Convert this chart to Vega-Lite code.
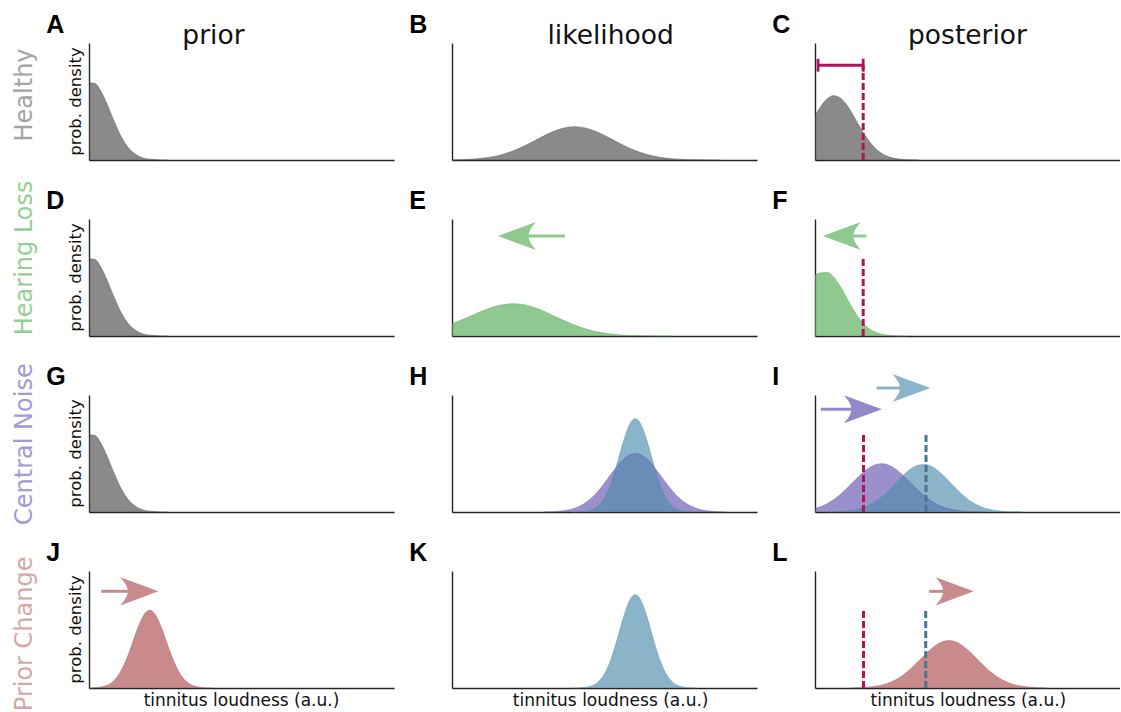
{
"$schema": "https://vega.github.io/schema/vega-lite/v6.json",
"padding": {"left": 13, "top": 12, "right": 0, "bottom": 0},
"background": "white",
"data": {"values": [
{"cond":"Healthy","stage":"prior","kind":"c","ink":"gray","x":0,"y":66},{"cond":"Healthy","stage":"prior","kind":"c","ink":"gray","x":2,"y":65.3},{"cond":"Healthy","stage":"prior","kind":"c","ink":"gray","x":4,"y":58.4},{"cond":"Healthy","stage":"prior","kind":"c","ink":"gray","x":6,"y":47.3},{"cond":"Healthy","stage":"prior","kind":"c","ink":"gray","x":8,"y":34.6},{"cond":"Healthy","stage":"prior","kind":"c","ink":"gray","x":10,"y":22.9},{"cond":"Healthy","stage":"prior","kind":"c","ink":"gray","x":12,"y":13.7},{"cond":"Healthy","stage":"prior","kind":"c","ink":"gray","x":14,"y":7.41},{"cond":"Healthy","stage":"prior","kind":"c","ink":"gray","x":16,"y":3.62},{"cond":"Healthy","stage":"prior","kind":"c","ink":"gray","x":18,"y":1.6},{"cond":"Healthy","stage":"prior","kind":"c","ink":"gray","x":20,"y":0.64},{"cond":"Healthy","stage":"prior","kind":"c","ink":"gray","x":22,"y":0.23},{"cond":"Healthy","stage":"prior","kind":"c","ink":"gray","x":24,"y":0.08},{"cond":"Healthy","stage":"prior","kind":"c","ink":"gray","x":26,"y":0},
{"cond":"Hearing Loss","stage":"prior","kind":"c","ink":"gray","x":0,"y":66},{"cond":"Hearing Loss","stage":"prior","kind":"c","ink":"gray","x":2,"y":65.3},{"cond":"Hearing Loss","stage":"prior","kind":"c","ink":"gray","x":4,"y":58.4},{"cond":"Hearing Loss","stage":"prior","kind":"c","ink":"gray","x":6,"y":47.3},{"cond":"Hearing Loss","stage":"prior","kind":"c","ink":"gray","x":8,"y":34.6},{"cond":"Hearing Loss","stage":"prior","kind":"c","ink":"gray","x":10,"y":22.9},{"cond":"Hearing Loss","stage":"prior","kind":"c","ink":"gray","x":12,"y":13.7},{"cond":"Hearing Loss","stage":"prior","kind":"c","ink":"gray","x":14,"y":7.41},{"cond":"Hearing Loss","stage":"prior","kind":"c","ink":"gray","x":16,"y":3.62},{"cond":"Hearing Loss","stage":"prior","kind":"c","ink":"gray","x":18,"y":1.6},{"cond":"Hearing Loss","stage":"prior","kind":"c","ink":"gray","x":20,"y":0.64},{"cond":"Hearing Loss","stage":"prior","kind":"c","ink":"gray","x":22,"y":0.23},{"cond":"Hearing Loss","stage":"prior","kind":"c","ink":"gray","x":24,"y":0.08},{"cond":"Hearing Loss","stage":"prior","kind":"c","ink":"gray","x":26,"y":0},
{"cond":"Central Noise","stage":"prior","kind":"c","ink":"gray","x":0,"y":66},{"cond":"Central Noise","stage":"prior","kind":"c","ink":"gray","x":2,"y":65.3},{"cond":"Central Noise","stage":"prior","kind":"c","ink":"gray","x":4,"y":58.4},{"cond":"Central Noise","stage":"prior","kind":"c","ink":"gray","x":6,"y":47.3},{"cond":"Central Noise","stage":"prior","kind":"c","ink":"gray","x":8,"y":34.6},{"cond":"Central Noise","stage":"prior","kind":"c","ink":"gray","x":10,"y":22.9},{"cond":"Central Noise","stage":"prior","kind":"c","ink":"gray","x":12,"y":13.7},{"cond":"Central Noise","stage":"prior","kind":"c","ink":"gray","x":14,"y":7.41},{"cond":"Central Noise","stage":"prior","kind":"c","ink":"gray","x":16,"y":3.62},{"cond":"Central Noise","stage":"prior","kind":"c","ink":"gray","x":18,"y":1.6},{"cond":"Central Noise","stage":"prior","kind":"c","ink":"gray","x":20,"y":0.64},{"cond":"Central Noise","stage":"prior","kind":"c","ink":"gray","x":22,"y":0.23},{"cond":"Central Noise","stage":"prior","kind":"c","ink":"gray","x":24,"y":0.08},{"cond":"Central Noise","stage":"prior","kind":"c","ink":"gray","x":26,"y":0},
{"cond":"Healthy","stage":"likelihood","kind":"c","ink":"gray","x":0,"y":0.16},{"cond":"Healthy","stage":"likelihood","kind":"c","ink":"gray","x":4,"y":0.43},{"cond":"Healthy","stage":"likelihood","kind":"c","ink":"gray","x":8,"y":1.03},{"cond":"Healthy","stage":"likelihood","kind":"c","ink":"gray","x":12,"y":2.24},{"cond":"Healthy","stage":"likelihood","kind":"c","ink":"gray","x":16,"y":4.37},{"cond":"Healthy","stage":"likelihood","kind":"c","ink":"gray","x":20,"y":7.72},{"cond":"Healthy","stage":"likelihood","kind":"c","ink":"gray","x":24,"y":12.3},{"cond":"Healthy","stage":"likelihood","kind":"c","ink":"gray","x":28,"y":17.7},{"cond":"Healthy","stage":"likelihood","kind":"c","ink":"gray","x":32,"y":23},{"cond":"Healthy","stage":"likelihood","kind":"c","ink":"gray","x":36,"y":26.9},{"cond":"Healthy","stage":"likelihood","kind":"c","ink":"gray","x":40,"y":28.5},{"cond":"Healthy","stage":"likelihood","kind":"c","ink":"gray","x":44,"y":27.2},{"cond":"Healthy","stage":"likelihood","kind":"c","ink":"gray","x":48,"y":23.5},{"cond":"Healthy","stage":"likelihood","kind":"c","ink":"gray","x":52,"y":18.3},{"cond":"Healthy","stage":"likelihood","kind":"c","ink":"gray","x":56,"y":12.8},{"cond":"Healthy","stage":"likelihood","kind":"c","ink":"gray","x":60,"y":8.13},{"cond":"Healthy","stage":"likelihood","kind":"c","ink":"gray","x":64,"y":4.65},{"cond":"Healthy","stage":"likelihood","kind":"c","ink":"gray","x":68,"y":2.4},{"cond":"Healthy","stage":"likelihood","kind":"c","ink":"gray","x":72,"y":1.12},{"cond":"Healthy","stage":"likelihood","kind":"c","ink":"gray","x":76,"y":0.47},{"cond":"Healthy","stage":"likelihood","kind":"c","ink":"gray","x":80,"y":0.18},{"cond":"Healthy","stage":"likelihood","kind":"c","ink":"gray","x":84,"y":0.06},{"cond":"Healthy","stage":"likelihood","kind":"c","ink":"gray","x":88,"y":0},
{"cond":"Healthy","stage":"posterior","kind":"c","ink":"gray","x":0,"y":37.9},{"cond":"Healthy","stage":"posterior","kind":"c","ink":"gray","x":2,"y":46.2},{"cond":"Healthy","stage":"posterior","kind":"c","ink":"gray","x":4,"y":52.3},{"cond":"Healthy","stage":"posterior","kind":"c","ink":"gray","x":6,"y":55},{"cond":"Healthy","stage":"posterior","kind":"c","ink":"gray","x":8,"y":53.5},{"cond":"Healthy","stage":"posterior","kind":"c","ink":"gray","x":10,"y":48.4},{"cond":"Healthy","stage":"posterior","kind":"c","ink":"gray","x":12,"y":40.5},{"cond":"Healthy","stage":"posterior","kind":"c","ink":"gray","x":14,"y":31.5},{"cond":"Healthy","stage":"posterior","kind":"c","ink":"gray","x":16,"y":22.7},{"cond":"Healthy","stage":"posterior","kind":"c","ink":"gray","x":18,"y":15.2},{"cond":"Healthy","stage":"posterior","kind":"c","ink":"gray","x":20,"y":9.45},{"cond":"Healthy","stage":"posterior","kind":"c","ink":"gray","x":22,"y":5.44},{"cond":"Healthy","stage":"posterior","kind":"c","ink":"gray","x":24,"y":2.91},{"cond":"Healthy","stage":"posterior","kind":"c","ink":"gray","x":26,"y":1.44},{"cond":"Healthy","stage":"posterior","kind":"c","ink":"gray","x":28,"y":0.66},{"cond":"Healthy","stage":"posterior","kind":"c","ink":"gray","x":30,"y":0.28},{"cond":"Healthy","stage":"posterior","kind":"c","ink":"gray","x":32,"y":0.11},{"cond":"Healthy","stage":"posterior","kind":"c","ink":"gray","x":34,"y":0},
{"cond":"Hearing Loss","stage":"likelihood","kind":"c","ink":"green","x":0,"y":10.4},{"cond":"Hearing Loss","stage":"likelihood","kind":"c","ink":"green","x":4,"y":14.7},{"cond":"Hearing Loss","stage":"likelihood","kind":"c","ink":"green","x":8,"y":19.3},{"cond":"Hearing Loss","stage":"likelihood","kind":"c","ink":"green","x":12,"y":23.4},{"cond":"Hearing Loss","stage":"likelihood","kind":"c","ink":"green","x":16,"y":26.4},{"cond":"Hearing Loss","stage":"likelihood","kind":"c","ink":"green","x":20,"y":27.6},{"cond":"Hearing Loss","stage":"likelihood","kind":"c","ink":"green","x":24,"y":26.6},{"cond":"Hearing Loss","stage":"likelihood","kind":"c","ink":"green","x":28,"y":23.5},{"cond":"Hearing Loss","stage":"likelihood","kind":"c","ink":"green","x":32,"y":18.9},{"cond":"Hearing Loss","stage":"likelihood","kind":"c","ink":"green","x":36,"y":14},{"cond":"Hearing Loss","stage":"likelihood","kind":"c","ink":"green","x":40,"y":9.51},{"cond":"Hearing Loss","stage":"likelihood","kind":"c","ink":"green","x":44,"y":5.91},{"cond":"Hearing Loss","stage":"likelihood","kind":"c","ink":"green","x":48,"y":3.36},{"cond":"Hearing Loss","stage":"likelihood","kind":"c","ink":"green","x":52,"y":1.75},{"cond":"Hearing Loss","stage":"likelihood","kind":"c","ink":"green","x":56,"y":0.84},{"cond":"Hearing Loss","stage":"likelihood","kind":"c","ink":"green","x":60,"y":0.37},{"cond":"Hearing Loss","stage":"likelihood","kind":"c","ink":"green","x":64,"y":0.15},{"cond":"Hearing Loss","stage":"likelihood","kind":"c","ink":"green","x":68,"y":0.05},{"cond":"Hearing Loss","stage":"likelihood","kind":"c","ink":"green","x":72,"y":0},
{"cond":"Hearing Loss","stage":"posterior","kind":"c","ink":"green","x":0,"y":52.2},{"cond":"Hearing Loss","stage":"posterior","kind":"c","ink":"green","x":2,"y":54},{"cond":"Hearing Loss","stage":"posterior","kind":"c","ink":"green","x":4,"y":54.3},{"cond":"Hearing Loss","stage":"posterior","kind":"c","ink":"green","x":6,"y":50.7},{"cond":"Hearing Loss","stage":"posterior","kind":"c","ink":"green","x":8,"y":43.6},{"cond":"Hearing Loss","stage":"posterior","kind":"c","ink":"green","x":10,"y":34.4},{"cond":"Hearing Loss","stage":"posterior","kind":"c","ink":"green","x":12,"y":25},{"cond":"Hearing Loss","stage":"posterior","kind":"c","ink":"green","x":14,"y":16.7},{"cond":"Hearing Loss","stage":"posterior","kind":"c","ink":"green","x":16,"y":10.3},{"cond":"Hearing Loss","stage":"posterior","kind":"c","ink":"green","x":18,"y":5.8},{"cond":"Hearing Loss","stage":"posterior","kind":"c","ink":"green","x":20,"y":3},{"cond":"Hearing Loss","stage":"posterior","kind":"c","ink":"green","x":22,"y":1.44},{"cond":"Hearing Loss","stage":"posterior","kind":"c","ink":"green","x":24,"y":0.63},{"cond":"Hearing Loss","stage":"posterior","kind":"c","ink":"green","x":26,"y":0.25},{"cond":"Hearing Loss","stage":"posterior","kind":"c","ink":"green","x":28,"y":0.09},{"cond":"Hearing Loss","stage":"posterior","kind":"c","ink":"green","x":30,"y":0},
{"cond":"Central Noise","stage":"likelihood","kind":"c","ink":"purple","x":30,"y":0},{"cond":"Central Noise","stage":"likelihood","kind":"c","ink":"purple","x":32,"y":0.2},{"cond":"Central Noise","stage":"likelihood","kind":"c","ink":"purple","x":34,"y":0.45},{"cond":"Central Noise","stage":"likelihood","kind":"c","ink":"purple","x":36,"y":0.9},{"cond":"Central Noise","stage":"likelihood","kind":"c","ink":"purple","x":38,"y":1.7},{"cond":"Central Noise","stage":"likelihood","kind":"c","ink":"purple","x":40,"y":3.05},{"cond":"Central Noise","stage":"likelihood","kind":"c","ink":"purple","x":42,"y":5.18},{"cond":"Central Noise","stage":"likelihood","kind":"c","ink":"purple","x":44,"y":8.31},{"cond":"Central Noise","stage":"likelihood","kind":"c","ink":"purple","x":46,"y":12.6},{"cond":"Central Noise","stage":"likelihood","kind":"c","ink":"purple","x":48,"y":18.2},{"cond":"Central Noise","stage":"likelihood","kind":"c","ink":"purple","x":50,"y":24.7},{"cond":"Central Noise","stage":"likelihood","kind":"c","ink":"purple","x":52,"y":31.8},{"cond":"Central Noise","stage":"likelihood","kind":"c","ink":"purple","x":54,"y":38.7},{"cond":"Central Noise","stage":"likelihood","kind":"c","ink":"purple","x":56,"y":44.5},{"cond":"Central Noise","stage":"likelihood","kind":"c","ink":"purple","x":58,"y":48.5},{"cond":"Central Noise","stage":"likelihood","kind":"c","ink":"purple","x":60,"y":50},{"cond":"Central Noise","stage":"likelihood","kind":"c","ink":"purple","x":62,"y":48.8},{"cond":"Central Noise","stage":"likelihood","kind":"c","ink":"purple","x":64,"y":45},{"cond":"Central Noise","stage":"likelihood","kind":"c","ink":"purple","x":66,"y":39.3},{"cond":"Central Noise","stage":"likelihood","kind":"c","ink":"purple","x":68,"y":32.5},{"cond":"Central Noise","stage":"likelihood","kind":"c","ink":"purple","x":70,"y":25.4},{"cond":"Central Noise","stage":"likelihood","kind":"c","ink":"purple","x":72,"y":18.8},{"cond":"Central Noise","stage":"likelihood","kind":"c","ink":"purple","x":74,"y":13.1},{"cond":"Central Noise","stage":"likelihood","kind":"c","ink":"purple","x":76,"y":8.69},{"cond":"Central Noise","stage":"likelihood","kind":"c","ink":"purple","x":78,"y":5.45},{"cond":"Central Noise","stage":"likelihood","kind":"c","ink":"purple","x":80,"y":3.23},{"cond":"Central Noise","stage":"likelihood","kind":"c","ink":"purple","x":82,"y":1.81},{"cond":"Central Noise","stage":"likelihood","kind":"c","ink":"purple","x":84,"y":0.96},{"cond":"Central Noise","stage":"likelihood","kind":"c","ink":"purple","x":86,"y":0.48},{"cond":"Central Noise","stage":"likelihood","kind":"c","ink":"purple","x":88,"y":0.22},{"cond":"Central Noise","stage":"likelihood","kind":"c","ink":"purple","x":90,"y":0},
{"cond":"Central Noise","stage":"likelihood","kind":"c","ink":"blue","x":40,"y":0},{"cond":"Central Noise","stage":"likelihood","kind":"c","ink":"blue","x":42,"y":0.18},{"cond":"Central Noise","stage":"likelihood","kind":"c","ink":"blue","x":44,"y":0.66},{"cond":"Central Noise","stage":"likelihood","kind":"c","ink":"blue","x":46,"y":2.02},{"cond":"Central Noise","stage":"likelihood","kind":"c","ink":"blue","x":48,"y":5.32},{"cond":"Central Noise","stage":"likelihood","kind":"c","ink":"blue","x":50,"y":12.1},{"cond":"Central Noise","stage":"likelihood","kind":"c","ink":"blue","x":52,"y":23.7},{"cond":"Central Noise","stage":"likelihood","kind":"c","ink":"blue","x":54,"y":40.1},{"cond":"Central Noise","stage":"likelihood","kind":"c","ink":"blue","x":56,"y":58.5},{"cond":"Central Noise","stage":"likelihood","kind":"c","ink":"blue","x":58,"y":73.6},{"cond":"Central Noise","stage":"likelihood","kind":"c","ink":"blue","x":59,"y":78},{"cond":"Central Noise","stage":"likelihood","kind":"c","ink":"blue","x":60,"y":79.8},{"cond":"Central Noise","stage":"likelihood","kind":"c","ink":"blue","x":61,"y":78.6},{"cond":"Central Noise","stage":"likelihood","kind":"c","ink":"blue","x":62,"y":74.6},{"cond":"Central Noise","stage":"likelihood","kind":"c","ink":"blue","x":64,"y":60.2},{"cond":"Central Noise","stage":"likelihood","kind":"c","ink":"blue","x":66,"y":41.9},{"cond":"Central Noise","stage":"likelihood","kind":"c","ink":"blue","x":68,"y":25.2},{"cond":"Central Noise","stage":"likelihood","kind":"c","ink":"blue","x":70,"y":13},{"cond":"Central Noise","stage":"likelihood","kind":"c","ink":"blue","x":72,"y":5.82},{"cond":"Central Noise","stage":"likelihood","kind":"c","ink":"blue","x":74,"y":2.24},{"cond":"Central Noise","stage":"likelihood","kind":"c","ink":"blue","x":76,"y":0.74},{"cond":"Central Noise","stage":"likelihood","kind":"c","ink":"blue","x":78,"y":0.21},{"cond":"Central Noise","stage":"likelihood","kind":"c","ink":"blue","x":80,"y":0},
{"cond":"Central Noise","stage":"posterior","kind":"c","ink":"purple","x":0,"y":2.97},{"cond":"Central Noise","stage":"posterior","kind":"c","ink":"purple","x":2,"y":4.71},{"cond":"Central Noise","stage":"posterior","kind":"c","ink":"purple","x":4,"y":7.14},{"cond":"Central Noise","stage":"posterior","kind":"c","ink":"purple","x":6,"y":10.4},{"cond":"Central Noise","stage":"posterior","kind":"c","ink":"purple","x":8,"y":14.4},{"cond":"Central Noise","stage":"posterior","kind":"c","ink":"purple","x":10,"y":19.1},{"cond":"Central Noise","stage":"posterior","kind":"c","ink":"purple","x":12,"y":24.3},{"cond":"Central Noise","stage":"posterior","kind":"c","ink":"purple","x":14,"y":29.5},{"cond":"Central Noise","stage":"posterior","kind":"c","ink":"purple","x":16,"y":34.3},{"cond":"Central Noise","stage":"posterior","kind":"c","ink":"purple","x":18,"y":38.1},{"cond":"Central Noise","stage":"posterior","kind":"c","ink":"purple","x":20,"y":40.6},{"cond":"Central Noise","stage":"posterior","kind":"c","ink":"purple","x":22,"y":41.3},{"cond":"Central Noise","stage":"posterior","kind":"c","ink":"purple","x":24,"y":40.2},{"cond":"Central Noise","stage":"posterior","kind":"c","ink":"purple","x":26,"y":37.5},{"cond":"Central Noise","stage":"posterior","kind":"c","ink":"purple","x":28,"y":33.4},{"cond":"Central Noise","stage":"posterior","kind":"c","ink":"purple","x":30,"y":28.5},{"cond":"Central Noise","stage":"posterior","kind":"c","ink":"purple","x":32,"y":23.2},{"cond":"Central Noise","stage":"posterior","kind":"c","ink":"purple","x":34,"y":18.1},{"cond":"Central Noise","stage":"posterior","kind":"c","ink":"purple","x":36,"y":13.5},{"cond":"Central Noise","stage":"posterior","kind":"c","ink":"purple","x":38,"y":9.65},{"cond":"Central Noise","stage":"posterior","kind":"c","ink":"purple","x":40,"y":6.59},{"cond":"Central Noise","stage":"posterior","kind":"c","ink":"purple","x":42,"y":4.31},{"cond":"Central Noise","stage":"posterior","kind":"c","ink":"purple","x":44,"y":2.69},{"cond":"Central Noise","stage":"posterior","kind":"c","ink":"purple","x":46,"y":1.61},{"cond":"Central Noise","stage":"posterior","kind":"c","ink":"purple","x":48,"y":0.92},{"cond":"Central Noise","stage":"posterior","kind":"c","ink":"purple","x":50,"y":0.5},{"cond":"Central Noise","stage":"posterior","kind":"c","ink":"purple","x":52,"y":0.26},{"cond":"Central Noise","stage":"posterior","kind":"c","ink":"purple","x":54,"y":0.13},{"cond":"Central Noise","stage":"posterior","kind":"c","ink":"purple","x":56,"y":0},
{"cond":"Central Noise","stage":"posterior","kind":"c","ink":"blue","x":4,"y":0},{"cond":"Central Noise","stage":"posterior","kind":"c","ink":"blue","x":6,"y":0.19},{"cond":"Central Noise","stage":"posterior","kind":"c","ink":"blue","x":8,"y":0.38},{"cond":"Central Noise","stage":"posterior","kind":"c","ink":"blue","x":10,"y":0.74},{"cond":"Central Noise","stage":"posterior","kind":"c","ink":"blue","x":12,"y":1.35},{"cond":"Central Noise","stage":"posterior","kind":"c","ink":"blue","x":14,"y":2.35},{"cond":"Central Noise","stage":"posterior","kind":"c","ink":"blue","x":16,"y":3.9},{"cond":"Central Noise","stage":"posterior","kind":"c","ink":"blue","x":18,"y":6.16},{"cond":"Central Noise","stage":"posterior","kind":"c","ink":"blue","x":20,"y":9.26},{"cond":"Central Noise","stage":"posterior","kind":"c","ink":"blue","x":22,"y":13.2},{"cond":"Central Noise","stage":"posterior","kind":"c","ink":"blue","x":24,"y":18},{"cond":"Central Noise","stage":"posterior","kind":"c","ink":"blue","x":26,"y":23.4},{"cond":"Central Noise","stage":"posterior","kind":"c","ink":"blue","x":28,"y":28.8},{"cond":"Central Noise","stage":"posterior","kind":"c","ink":"blue","x":30,"y":33.9},{"cond":"Central Noise","stage":"posterior","kind":"c","ink":"blue","x":32,"y":37.8},{"cond":"Central Noise","stage":"posterior","kind":"c","ink":"blue","x":34,"y":40.2},{"cond":"Central Noise","stage":"posterior","kind":"c","ink":"blue","x":36,"y":40.7},{"cond":"Central Noise","stage":"posterior","kind":"c","ink":"blue","x":38,"y":39.3},{"cond":"Central Noise","stage":"posterior","kind":"c","ink":"blue","x":40,"y":36},{"cond":"Central Noise","stage":"posterior","kind":"c","ink":"blue","x":42,"y":31.4},{"cond":"Central Noise","stage":"posterior","kind":"c","ink":"blue","x":44,"y":26.1},{"cond":"Central Noise","stage":"posterior","kind":"c","ink":"blue","x":46,"y":20.7},{"cond":"Central Noise","stage":"posterior","kind":"c","ink":"blue","x":48,"y":15.6},{"cond":"Central Noise","stage":"posterior","kind":"c","ink":"blue","x":50,"y":11.1},{"cond":"Central Noise","stage":"posterior","kind":"c","ink":"blue","x":52,"y":7.6},{"cond":"Central Noise","stage":"posterior","kind":"c","ink":"blue","x":54,"y":4.93},{"cond":"Central Noise","stage":"posterior","kind":"c","ink":"blue","x":56,"y":3.05},{"cond":"Central Noise","stage":"posterior","kind":"c","ink":"blue","x":58,"y":1.79},{"cond":"Central Noise","stage":"posterior","kind":"c","ink":"blue","x":60,"y":1},{"cond":"Central Noise","stage":"posterior","kind":"c","ink":"blue","x":62,"y":0.53},{"cond":"Central Noise","stage":"posterior","kind":"c","ink":"blue","x":64,"y":0.27},{"cond":"Central Noise","stage":"posterior","kind":"c","ink":"blue","x":66,"y":0.13},{"cond":"Central Noise","stage":"posterior","kind":"c","ink":"blue","x":68,"y":0},
{"cond":"Prior Change","stage":"prior","kind":"c","ink":"pink","x":0,"y":0},{"cond":"Prior Change","stage":"prior","kind":"c","ink":"pink","x":2,"y":0.27},{"cond":"Prior Change","stage":"prior","kind":"c","ink":"pink","x":4,"y":0.87},{"cond":"Prior Change","stage":"prior","kind":"c","ink":"pink","x":6,"y":2.42},{"cond":"Prior Change","stage":"prior","kind":"c","ink":"pink","x":8,"y":5.86},{"cond":"Prior Change","stage":"prior","kind":"c","ink":"pink","x":10,"y":12.4},{"cond":"Prior Change","stage":"prior","kind":"c","ink":"pink","x":12,"y":22.8},{"cond":"Prior Change","stage":"prior","kind":"c","ink":"pink","x":14,"y":36.6},{"cond":"Prior Change","stage":"prior","kind":"c","ink":"pink","x":16,"y":51.2},{"cond":"Prior Change","stage":"prior","kind":"c","ink":"pink","x":18,"y":62.4},{"cond":"Prior Change","stage":"prior","kind":"c","ink":"pink","x":19,"y":65.5},{"cond":"Prior Change","stage":"prior","kind":"c","ink":"pink","x":20,"y":66.4},{"cond":"Prior Change","stage":"prior","kind":"c","ink":"pink","x":21,"y":65},{"cond":"Prior Change","stage":"prior","kind":"c","ink":"pink","x":22,"y":61.6},{"cond":"Prior Change","stage":"prior","kind":"c","ink":"pink","x":24,"y":49.8},{"cond":"Prior Change","stage":"prior","kind":"c","ink":"pink","x":26,"y":35.1},{"cond":"Prior Change","stage":"prior","kind":"c","ink":"pink","x":28,"y":21.6},{"cond":"Prior Change","stage":"prior","kind":"c","ink":"pink","x":30,"y":11.5},{"cond":"Prior Change","stage":"prior","kind":"c","ink":"pink","x":32,"y":5.4},{"cond":"Prior Change","stage":"prior","kind":"c","ink":"pink","x":34,"y":2.2},{"cond":"Prior Change","stage":"prior","kind":"c","ink":"pink","x":36,"y":0.78},{"cond":"Prior Change","stage":"prior","kind":"c","ink":"pink","x":38,"y":0.24},{"cond":"Prior Change","stage":"prior","kind":"c","ink":"pink","x":40,"y":0},
{"cond":"Prior Change","stage":"likelihood","kind":"c","ink":"blue","x":40,"y":0},{"cond":"Prior Change","stage":"likelihood","kind":"c","ink":"blue","x":42,"y":0.18},{"cond":"Prior Change","stage":"likelihood","kind":"c","ink":"blue","x":44,"y":0.66},{"cond":"Prior Change","stage":"likelihood","kind":"c","ink":"blue","x":46,"y":2.02},{"cond":"Prior Change","stage":"likelihood","kind":"c","ink":"blue","x":48,"y":5.32},{"cond":"Prior Change","stage":"likelihood","kind":"c","ink":"blue","x":50,"y":12.1},{"cond":"Prior Change","stage":"likelihood","kind":"c","ink":"blue","x":52,"y":23.7},{"cond":"Prior Change","stage":"likelihood","kind":"c","ink":"blue","x":54,"y":40.1},{"cond":"Prior Change","stage":"likelihood","kind":"c","ink":"blue","x":56,"y":58.5},{"cond":"Prior Change","stage":"likelihood","kind":"c","ink":"blue","x":58,"y":73.6},{"cond":"Prior Change","stage":"likelihood","kind":"c","ink":"blue","x":59,"y":78},{"cond":"Prior Change","stage":"likelihood","kind":"c","ink":"blue","x":60,"y":79.8},{"cond":"Prior Change","stage":"likelihood","kind":"c","ink":"blue","x":61,"y":78.6},{"cond":"Prior Change","stage":"likelihood","kind":"c","ink":"blue","x":62,"y":74.6},{"cond":"Prior Change","stage":"likelihood","kind":"c","ink":"blue","x":64,"y":60.2},{"cond":"Prior Change","stage":"likelihood","kind":"c","ink":"blue","x":66,"y":41.9},{"cond":"Prior Change","stage":"likelihood","kind":"c","ink":"blue","x":68,"y":25.2},{"cond":"Prior Change","stage":"likelihood","kind":"c","ink":"blue","x":70,"y":13},{"cond":"Prior Change","stage":"likelihood","kind":"c","ink":"blue","x":72,"y":5.82},{"cond":"Prior Change","stage":"likelihood","kind":"c","ink":"blue","x":74,"y":2.24},{"cond":"Prior Change","stage":"likelihood","kind":"c","ink":"blue","x":76,"y":0.74},{"cond":"Prior Change","stage":"likelihood","kind":"c","ink":"blue","x":78,"y":0.21},{"cond":"Prior Change","stage":"likelihood","kind":"c","ink":"blue","x":80,"y":0},
{"cond":"Prior Change","stage":"posterior","kind":"c","ink":"pink","x":12,"y":0},{"cond":"Prior Change","stage":"posterior","kind":"c","ink":"pink","x":14,"y":0.23},{"cond":"Prior Change","stage":"posterior","kind":"c","ink":"pink","x":16,"y":0.45},{"cond":"Prior Change","stage":"posterior","kind":"c","ink":"pink","x":18,"y":0.84},{"cond":"Prior Change","stage":"posterior","kind":"c","ink":"pink","x":20,"y":1.49},{"cond":"Prior Change","stage":"posterior","kind":"c","ink":"pink","x":22,"y":2.53},{"cond":"Prior Change","stage":"posterior","kind":"c","ink":"pink","x":24,"y":4.1},{"cond":"Prior Change","stage":"posterior","kind":"c","ink":"pink","x":26,"y":6.36},{"cond":"Prior Change","stage":"posterior","kind":"c","ink":"pink","x":28,"y":9.4},{"cond":"Prior Change","stage":"posterior","kind":"c","ink":"pink","x":30,"y":13.3},{"cond":"Prior Change","stage":"posterior","kind":"c","ink":"pink","x":32,"y":17.9},{"cond":"Prior Change","stage":"posterior","kind":"c","ink":"pink","x":34,"y":23},{"cond":"Prior Change","stage":"posterior","kind":"c","ink":"pink","x":36,"y":28.2},{"cond":"Prior Change","stage":"posterior","kind":"c","ink":"pink","x":38,"y":33.1},{"cond":"Prior Change","stage":"posterior","kind":"c","ink":"pink","x":40,"y":37.1},{"cond":"Prior Change","stage":"posterior","kind":"c","ink":"pink","x":42,"y":39.7},{"cond":"Prior Change","stage":"posterior","kind":"c","ink":"pink","x":44,"y":40.5},{"cond":"Prior Change","stage":"posterior","kind":"c","ink":"pink","x":46,"y":39.5},{"cond":"Prior Change","stage":"posterior","kind":"c","ink":"pink","x":48,"y":36.8},{"cond":"Prior Change","stage":"posterior","kind":"c","ink":"pink","x":50,"y":32.7},{"cond":"Prior Change","stage":"posterior","kind":"c","ink":"pink","x":52,"y":27.7},{"cond":"Prior Change","stage":"posterior","kind":"c","ink":"pink","x":54,"y":22.5},{"cond":"Prior Change","stage":"posterior","kind":"c","ink":"pink","x":56,"y":17.4},{"cond":"Prior Change","stage":"posterior","kind":"c","ink":"pink","x":58,"y":12.8},{"cond":"Prior Change","stage":"posterior","kind":"c","ink":"pink","x":60,"y":9.05},{"cond":"Prior Change","stage":"posterior","kind":"c","ink":"pink","x":62,"y":6.1},{"cond":"Prior Change","stage":"posterior","kind":"c","ink":"pink","x":64,"y":3.92},{"cond":"Prior Change","stage":"posterior","kind":"c","ink":"pink","x":66,"y":2.41},{"cond":"Prior Change","stage":"posterior","kind":"c","ink":"pink","x":68,"y":1.41},{"cond":"Prior Change","stage":"posterior","kind":"c","ink":"pink","x":70,"y":0.79},{"cond":"Prior Change","stage":"posterior","kind":"c","ink":"pink","x":72,"y":0.42},{"cond":"Prior Change","stage":"posterior","kind":"c","ink":"pink","x":74,"y":0.21},{"cond":"Prior Change","stage":"posterior","kind":"c","ink":"pink","x":76,"y":0},
{"cond":"Healthy","stage":"posterior","kind":"d","ink":"crimson","x":15.8,"y":0,"y2":81},
{"cond":"Hearing Loss","stage":"posterior","kind":"d","ink":"crimson","x":15.8,"y":0,"y2":66},
{"cond":"Central Noise","stage":"posterior","kind":"d","ink":"crimson","x":15.9,"y":0,"y2":67},
{"cond":"Central Noise","stage":"posterior","kind":"d","ink":"steel","x":36.4,"y":0,"y2":67},
{"cond":"Prior Change","stage":"posterior","kind":"d","ink":"crimson","x":15.9,"y":0,"y2":68},
{"cond":"Prior Change","stage":"posterior","kind":"d","ink":"steel","x":36.3,"y":0,"y2":68},
{"cond":"Healthy","stage":"posterior","kind":"e","ink":"crimson","x":1,"x2":15.8,"y":81,"y2":81},
{"cond":"Healthy","stage":"posterior","kind":"e","ink":"crimson","x":1,"x2":1,"y":75.5,"y2":86.5},
{"cond":"Healthy","stage":"posterior","kind":"e","ink":"crimson","x":15.8,"x2":15.8,"y":75.5,"y2":86.5},
{"cond":"Hearing Loss","stage":"likelihood","kind":"s","ink":"green_a","x":37,"x2":23.1,"y":85.5,"y2":85.5},
{"cond":"Hearing Loss","stage":"posterior","kind":"s","ink":"green_a","x":16.9,"x2":10.6,"y":85.5,"y2":85.5},
{"cond":"Central Noise","stage":"posterior","kind":"s","ink":"purple_a","x":1.9,"x2":13.9,"y":87.8,"y2":87.8},
{"cond":"Central Noise","stage":"posterior","kind":"s","ink":"blue_a","x":20.2,"x2":29.8,"y":106,"y2":106},
{"cond":"Prior Change","stage":"prior","kind":"s","ink":"pink_a","x":4,"x2":14.7,"y":82.6,"y2":82.6},
{"cond":"Prior Change","stage":"posterior","kind":"s","ink":"pink_a","x":37.4,"x2":44,"y":82.6,"y2":82.6},
{"cond":"Hearing Loss","stage":"likelihood","kind":"h","ink":"green_a","dir":"left","x":21.3,"y":85.5},
{"cond":"Hearing Loss","stage":"posterior","kind":"h","ink":"green_a","dir":"left","x":8.8,"y":85.5},
{"cond":"Central Noise","stage":"posterior","kind":"h","ink":"purple_a","dir":"right","x":15.7,"y":87.8},
{"cond":"Central Noise","stage":"posterior","kind":"h","ink":"blue_a","dir":"right","x":31.6,"y":106},
{"cond":"Prior Change","stage":"prior","kind":"h","ink":"pink_a","dir":"right","x":16.5,"y":82.6},
{"cond":"Prior Change","stage":"posterior","kind":"h","ink":"pink_a","dir":"right","x":45.8,"y":82.6},
{"cond":"Healthy","stage":"prior","kind":"L","t":"A","x":-14,"y":108.8},
{"cond":"Healthy","stage":"likelihood","kind":"L","t":"B","x":-14,"y":108.8},
{"cond":"Healthy","stage":"posterior","kind":"L","t":"C","x":-14,"y":108.8},
{"cond":"Hearing Loss","stage":"prior","kind":"L","t":"D","x":-14,"y":108.8},
{"cond":"Hearing Loss","stage":"likelihood","kind":"L","t":"E","x":-14,"y":108.8},
{"cond":"Hearing Loss","stage":"posterior","kind":"L","t":"F","x":-14,"y":108.8},
{"cond":"Central Noise","stage":"prior","kind":"L","t":"G","x":-14,"y":108.8},
{"cond":"Central Noise","stage":"likelihood","kind":"L","t":"H","x":-14,"y":108.8},
{"cond":"Central Noise","stage":"posterior","kind":"L","t":"I","x":-14,"y":108.8},
{"cond":"Prior Change","stage":"prior","kind":"L","t":"J","x":-14,"y":108.8},
{"cond":"Prior Change","stage":"likelihood","kind":"L","t":"K","x":-14,"y":108.8},
{"cond":"Prior Change","stage":"posterior","kind":"L","t":"L","x":-14,"y":108.8},
{"cond":"Healthy","stage":"prior","kind":"T","t":"prior","x":40.8,"y":99.5},
{"cond":"Healthy","stage":"likelihood","kind":"T","t":"likelihood","x":52,"y":99.5},
{"cond":"Healthy","stage":"posterior","kind":"T","t":"posterior","x":50,"y":99.5},
{"cond":"Healthy","stage":"prior","kind":"R","t":"Healthy","ink":"lab_gray","x":-18.6,"y":55.6},
{"cond":"Hearing Loss","stage":"prior","kind":"R","t":"Hearing Loss","ink":"lab_green","x":-18.6,"y":66.8},
{"cond":"Central Noise","stage":"prior","kind":"R","t":"Central Noise","ink":"lab_purple","x":-18.6,"y":58},
{"cond":"Prior Change","stage":"prior","kind":"R","t":"Prior Change","ink":"lab_pink","x":-18.6,"y":46.3},
{"cond":"Healthy","stage":"prior","kind":"Y","t":"prob. density","x":-2.7,"y":50},
{"cond":"Hearing Loss","stage":"prior","kind":"Y","t":"prob. density","x":-2.7,"y":50},
{"cond":"Central Noise","stage":"prior","kind":"Y","t":"prob. density","x":-2.7,"y":50},
{"cond":"Prior Change","stage":"prior","kind":"Y","t":"prob. density","x":-2.7,"y":50},
{"cond":"Prior Change","stage":"prior","kind":"X","t":"tinnitus loudness (a.u.)","x":50,"y":-15.6},
{"cond":"Prior Change","stage":"likelihood","kind":"X","t":"tinnitus loudness (a.u.)","x":52,"y":-15.6},
{"cond":"Prior Change","stage":"posterior","kind":"X","t":"tinnitus loudness (a.u.)","x":50.3,"y":-15.6}
]},
"facet": {
  "row": {"field": "cond", "type": "nominal", "sort": ["Healthy", "Hearing Loss", "Central Noise", "Prior Change"], "header": null},
  "column": {"field": "stage", "type": "nominal", "sort": ["prior", "likelihood", "posterior"], "header": null}
},
"spacing": {"row": 59, "column": 58},
"bounds": "flush",
"resolve": {"axis": {"x": "independent", "y": "independent"}},
"spec": {
  "width": 305,
  "height": 117,
  "layer": [
    {
      "transform": [{"filter": "datum.kind == 'c'"}],
      "mark": {"type": "area", "interpolate": "monotone", "fillOpacity": 0.65},
      "encoding": {
        "x": {"field": "x", "type": "quantitative", "scale": {"domain": [0, 100], "nice": false, "zero": false}, "title": null},
        "y": {"field": "y", "type": "quantitative", "scale": {"domain": [0, 100], "nice": false, "zero": false}, "stack": null, "title": null},
        "color": {"field": "ink", "type": "nominal", "legend": null, "scale": {"domain": ["gray","green","purple","blue","pink","crimson","steel","green_a","purple_a","blue_a","pink_a","lab_gray","lab_green","lab_purple","lab_pink"], "range": ["#4b4b4b","#53ac53","#6555af","#4f8cab","#ac4b4e","#b0135a","#46758f","#8fc98f","#9488cc","#8cb4c8","#c98a8c","#a3a3a3","#95cf95","#a09ad8","#d6a7a7"]}}
      }
    },
    {
      "transform": [{"filter": "datum.kind == 'c'"}],
      "mark": {"type": "line", "interpolate": "monotone", "strokeWidth": 1, "opacity": 0.45},
      "encoding": {
        "x": {"field": "x", "type": "quantitative", "title": null},
        "y": {"field": "y", "type": "quantitative", "title": null},
        "color": {"field": "ink", "type": "nominal", "legend": null}
      }
    },
    {
      "transform": [{"filter": "datum.kind == 'd'"}],
      "mark": {"type": "rule", "strokeWidth": 3, "strokeDash": [7, 3]},
      "encoding": {
        "x": {"field": "x", "type": "quantitative", "title": null},
        "y": {"field": "y", "type": "quantitative", "title": null},
        "y2": {"field": "y2"},
        "color": {"field": "ink", "type": "nominal", "legend": null}
      }
    },
    {
      "transform": [{"filter": "datum.kind == 'e'"}],
      "mark": {"type": "rule", "strokeWidth": 2.8},
      "encoding": {
        "x": {"field": "x", "type": "quantitative", "title": null},
        "x2": {"field": "x2"},
        "y": {"field": "y", "type": "quantitative", "title": null},
        "y2": {"field": "y2"},
        "color": {"field": "ink", "type": "nominal", "legend": null}
      }
    },
    {
      "transform": [{"filter": "datum.kind == 's'"}],
      "mark": {"type": "rule", "strokeWidth": 3},
      "encoding": {
        "x": {"field": "x", "type": "quantitative", "title": null},
        "x2": {"field": "x2"},
        "y": {"field": "y", "type": "quantitative", "title": null},
        "y2": {"field": "y2"},
        "color": {"field": "ink", "type": "nominal", "legend": null}
      }
    },
    {
      "transform": [{"filter": "datum.kind == 'h'"}],
      "mark": {"type": "point", "filled": true, "size": 1444, "opacity": 1, "strokeWidth": 0},
      "encoding": {
        "x": {"field": "x", "type": "quantitative", "title": null},
        "y": {"field": "y", "type": "quantitative", "title": null},
        "color": {"field": "ink", "type": "nominal", "legend": null},
        "shape": {"field": "dir", "type": "nominal", "legend": null, "scale": {"domain": ["right", "left"], "range": ["M1,0L-1,-0.74Q-0.6,-0.3,-0.6,0Q-0.6,0.3,-1,0.74Z", "M-1,0L1,-0.74Q0.6,-0.3,0.6,0Q0.6,0.3,1,0.74Z"]}}
      }
    },
    {
      "transform": [{"filter": "datum.kind == 'L'"}],
      "mark": {"type": "text", "font": "Liberation Sans", "fontWeight": "bold", "fontSize": 25, "align": "left", "baseline": "alphabetic", "color": "#000000"},
      "encoding": {
        "x": {"field": "x", "type": "quantitative", "title": null},
        "y": {"field": "y", "type": "quantitative", "title": null},
        "text": {"field": "t"}
      }
    },
    {
      "transform": [{"filter": "datum.kind == 'T'"}],
      "mark": {"type": "text", "font": "DejaVu Sans", "fontSize": 26.5, "align": "center", "baseline": "alphabetic", "color": "#111111"},
      "encoding": {
        "x": {"field": "x", "type": "quantitative", "title": null},
        "y": {"field": "y", "type": "quantitative", "title": null},
        "text": {"field": "t"}
      }
    },
    {
      "transform": [{"filter": "datum.kind == 'R'"}],
      "mark": {"type": "text", "font": "DejaVu Sans", "fontSize": 24, "angle": 270, "align": "center", "baseline": "alphabetic"},
      "encoding": {
        "x": {"field": "x", "type": "quantitative", "title": null},
        "y": {"field": "y", "type": "quantitative", "title": null},
        "color": {"field": "ink", "type": "nominal", "legend": null},
        "text": {"field": "t"}
      }
    },
    {
      "transform": [{"filter": "datum.kind == 'Y'"}],
      "mark": {"type": "text", "font": "DejaVu Sans", "fontSize": 16.5, "angle": 270, "align": "center", "baseline": "alphabetic", "color": "#111111"},
      "encoding": {
        "x": {"field": "x", "type": "quantitative", "title": null},
        "y": {"field": "y", "type": "quantitative", "title": null},
        "text": {"field": "t"}
      }
    },
    {
      "transform": [{"filter": "datum.kind == 'X'"}],
      "mark": {"type": "text", "font": "DejaVu Sans", "fontSize": 17, "align": "center", "baseline": "alphabetic", "color": "#111111"},
      "encoding": {
        "x": {"field": "x", "type": "quantitative", "title": null},
        "y": {"field": "y", "type": "quantitative", "title": null},
        "text": {"field": "t"}
      }
    }
  ]
},
"config": {
  "view": {"stroke": null},
  "axis": {"domain": true, "domainColor": "#222222", "domainWidth": 1.4, "ticks": false, "labels": false, "grid": false}
}
}
